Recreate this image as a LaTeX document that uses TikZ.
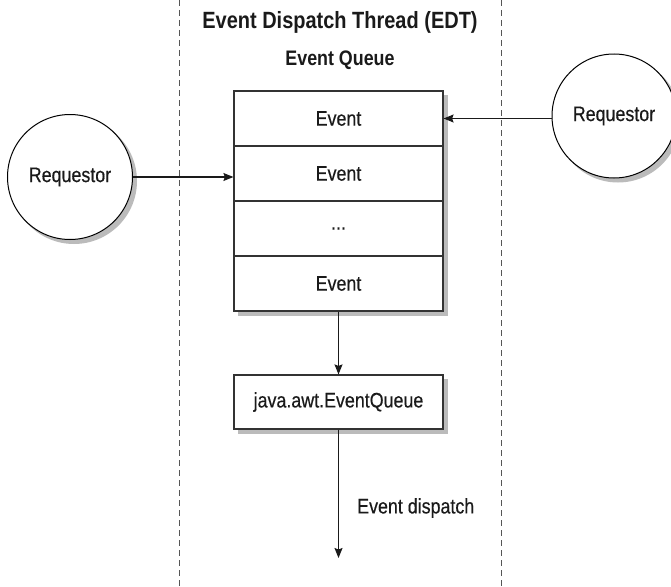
\documentclass[tikz,border=0pt]{standalone}
\usepackage{fontspec}
\setmainfont{Liberation Sans}[FakeStretch=0.85,UprightFeatures={FakeBold=0.4}]
\usetikzlibrary{arrows.meta,backgrounds}
\definecolor{ink}{HTML}{1A1A1A}
\definecolor{edge}{HTML}{333333}
\definecolor{shadowgray}{HTML}{BBBBBB}
\definecolor{sep}{HTML}{555555}
\tikzset{
  cell/.style={draw=edge,line width=1.2pt,fill=white,minimum width=209pt,minimum height=55pt,inner sep=0pt,text=ink,font=\fontsize{21}{24}\selectfont},
  reqc/.style={circle,draw=black,line width=1pt,fill=white,minimum size=125pt,inner sep=0pt,text=ink,font=\fontsize{21}{24}\selectfont},
  conn/.style={draw=ink,line width=1.1pt,-{Stealth[length=10pt,width=8pt,inset=1.5pt]}},
  lane/.style={draw=sep,line width=1pt,dash pattern=on 6pt off 4pt},
  shadowfill/.style={fill=shadowgray},
  ttl/.style={text=ink,font=\bfseries\fontsize{23.5}{26}\selectfont},
  sub/.style={text=ink,font=\bfseries\fontsize{21}{24}\selectfont},
  lbl/.style={text=ink,font=\fontsize{21}{24}\selectfont,inner sep=0pt}
}
\begin{document}
\begin{tikzpicture}[x=1pt,y=-1pt]
\useasboundingbox (0,0) rectangle (671,586);
\coordinate (lt) at (179,0); \coordinate (lb) at (179,586);
\coordinate (rt) at (501,0); \coordinate (rb) at (501,586);
\draw[lane] (lt) -- (lb);
\draw[lane] (rt) -- (rb);
\node[ttl] (title) at (340,22) {Event Dispatch Thread (EDT)};
\node[sub] (qtitle) at (340,60) {Event Queue};
\node[cell] (c1) at (338.5,118.5) {Event};
\node[cell] (c2) at (338.5,173.5) {Event};
\node[cell] (c3) at (338.5,228.5) {...};
\node[cell] (c4) at (338.5,283.5) {Event};
\node[cell,minimum height=54pt] (eq) at (338.5,402) {java.awt.EventQueue};
\node[reqc] (L) at (70,177) {Requestor};
\node[reqc,minimum size=124pt] (R) at (614,116) {Requestor};
\begin{scope}[on background layer]
  \fill[shadowfill] ([shift={(4.5,4.5)}]c1.north west) rectangle ([shift={(4.5,4.5)}]c4.south east);
  \fill[shadowfill] ([shift={(4.5,4.5)}]eq.north west) rectangle ([shift={(4.5,4.5)}]eq.south east);
  \fill[shadowfill] ([shift={(4,4)}]L.center) circle[radius=63pt];
  \fill[shadowfill] ([shift={(4,4)}]R.center) circle[radius=62.5pt];
\end{scope}
\coordinate (end) at (338.5,558);
\draw[conn] (L.east) -- (L.east -| c2.west);
\draw[conn] (c1.east -| R.west) -- (c1.east);
\draw[conn] (c4.south) -- (eq.north);
\draw[conn] (eq.south) -- (end);
\node[lbl,anchor=west] (disp) at (357,508) {Event dispatch};
\end{tikzpicture}
\end{document}
